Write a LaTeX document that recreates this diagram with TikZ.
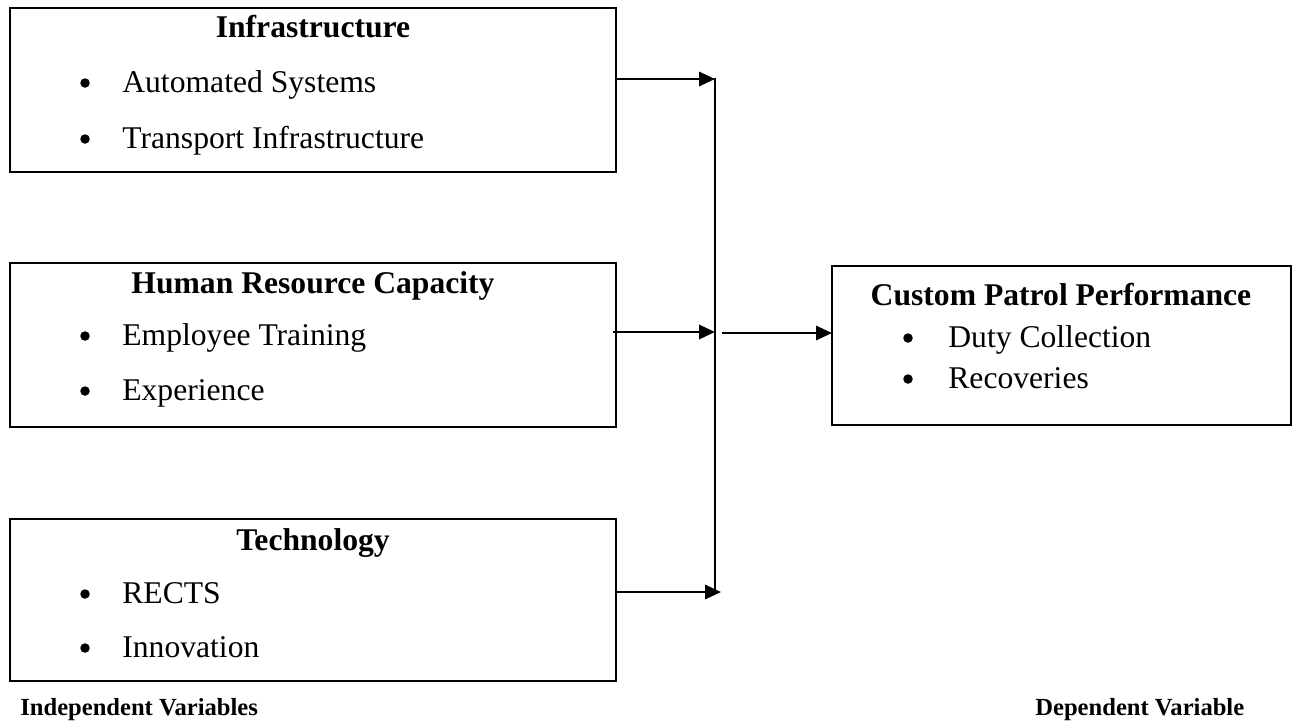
\documentclass[tikz,border=0pt]{standalone}
\usepackage{fontspec}
\setmainfont{Liberation Serif}
\usetikzlibrary{arrows.meta}
\begin{document}
\begin{tikzpicture}[x=0.02cm,y=-0.02cm,
  varbox/.style={draw=black,line width=1.4pt},
  heading/.style={anchor=base,inner sep=0pt,font=\fontsize{18}{22}\selectfont\bfseries},
  item/.style={anchor=base west,inner sep=0pt,font=\fontsize{18}{22}\selectfont},
  caption/.style={anchor=base west,inner sep=0pt,font=\fontsize{14}{17}\selectfont\bfseries},
  dot/.style={circle,fill=black,inner sep=0pt,minimum size=0.19cm},
  flow/.style={line width=1.5pt,-{Triangle[length=9pt,width=8pt]}},
  trunk/.style={line width=0.7pt}]
\useasboundingbox (0,0) rectangle (1293,721);

% independent variable boxes
\draw[varbox] (10,8) rectangle (616,172);
\coordinate (infra) at (616,79);
\draw[varbox] (10,263) rectangle (616,427);
\coordinate (hr) at (613,332);
\draw[varbox] (10,519) rectangle (616,681);
\coordinate (tech) at (616,592);

% dependent variable box
\draw[varbox,line width=0.9pt] (832,266) rectangle (1291,425);
\coordinate (cpp) at (832,333);

% Infrastructure
\node[heading] (h1) at (313,37) {Infrastructure};
\node[dot] (b11) at (85,83) {};
\node[item] (i11) at (122,92) {Automated Systems};
\node[dot] (b12) at (85,139) {};
\node[item] (i12) at (122,148) {Transport Infrastructure};

% Human Resource Capacity
\node[heading] (h2) at (313,293) {Human Resource Capacity};
\node[dot] (b21) at (85,336) {};
\node[item] (i21) at (122,345) {Employee Training};
\node[dot] (b22) at (85,391) {};
\node[item] (i22) at (122,400) {Experience};

% Technology
\node[heading] (h3) at (313,550) {Technology};
\node[dot] (b31) at (85,594) {};
\node[item] (i31) at (122,603) {RECTS};
\node[dot] (b32) at (85,648) {};
\node[item] (i32) at (122,657) {Innovation};

% Custom Patrol Performance
\node[heading] (h4) at (1061,305) {Custom Patrol Performance};
\node[dot] (b41) at (908,338) {};
\node[item] (i41) at (948,347) {Duty Collection};
\node[dot] (b42) at (908,379) {};
\node[item] (i42) at (948,388) {Recoveries};

% captions
\node[caption] (cap1) at (20,715) {Independent Variables};
\node[caption] (cap2) at (1035,715) {Dependent Variable};

% connectors
\coordinate (jtop) at (715,79);
\coordinate (jmid) at (715,332);
\coordinate (jbot) at (721,592);
\coordinate (jout) at (722,333);
\draw[trunk] (715,78) -- (715,590);
\draw[flow] (infra) -- (jtop);
\draw[flow] (hr) -- (jmid);
\draw[flow] (tech) -- (jbot);
\draw[flow] (jout) -- (cpp);
\end{tikzpicture}
\end{document}
